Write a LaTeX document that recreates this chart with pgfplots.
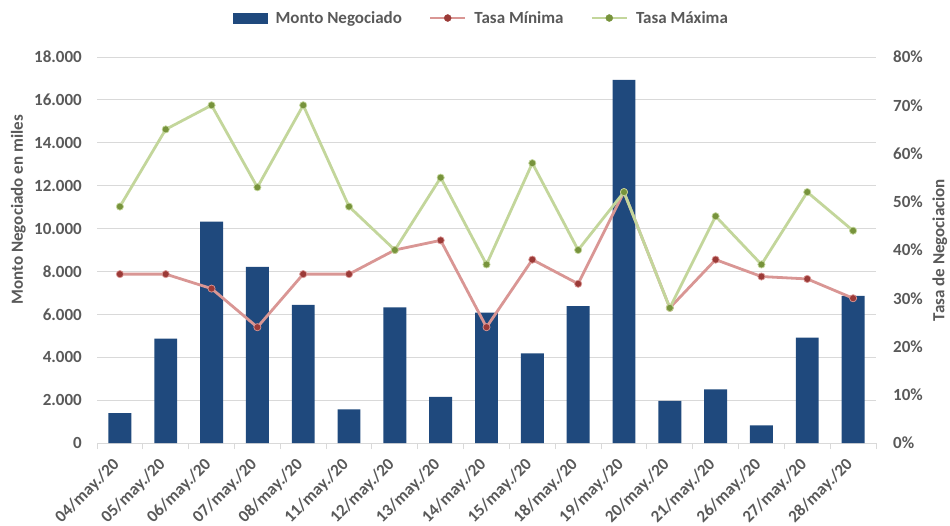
\documentclass[border=0pt]{standalone}
\usepackage{pgfplots}
\pgfplotsset{compat=1.18}
\usepackage{fontspec}
\setmainfont{Carlito}
\definecolor{barblue}{HTML}{1F497D}
\definecolor{redline}{HTML}{D99694}
\definecolor{redmark}{HTML}{9B3A37}
\definecolor{greenline}{HTML}{C3D69B}
\definecolor{greenmark}{HTML}{77933C}
\definecolor{txt}{HTML}{595959}
\definecolor{gridc}{HTML}{D9D9D9}
\begin{document}
\begin{tikzpicture}[x=1pt,y=1pt]
\useasboundingbox (0,0) rectangle (950,525);
\pgfplotsset{
  common/.style={
    at={(97pt,82pt)}, anchor=south west,
    scale only axis, width=779pt, height=386pt,
    xmin=-0.5, xmax=16.5,
    ticklabel style={font=\fontsize{17}{19}\selectfont\bfseries, text=txt},
    label style={font=\fontsize{17}{19}\selectfont\bfseries, text=txt},
    /pgf/number format/assume math mode=true,
    major tick length=0pt,
  }
}
\begin{axis}[common,
  ymin=0, ymax=18000, ytick={0,2000,...,18000},
  scaled y ticks=false,
  /pgf/number format/1000 sep={.},
  axis y line*=left, axis x line*=bottom,
  y axis line style={draw=none},
  x axis line style={draw=gridc, line width=1pt, -},
  ymajorgrids, grid style={draw=gridc, line width=0.9pt},
  ytick style={draw=none},
  yticklabel style={anchor=east, inner sep=0pt, xshift=-15pt},
  xtick={0,...,16},
  xticklabels={04/may./20,05/may./20,06/may./20,07/may./20,08/may./20,11/may./20,12/may./20,13/may./20,14/may./20,15/may./20,18/may./20,19/may./20,20/may./20,21/may./20,26/may./20,27/may./20,28/may./20},
  xticklabel style={anchor=east, inner sep=0pt, xshift=-3pt, yshift=-19pt, rotate=45},
  major x tick style={draw=none},
  minor xtick={-0.5,0.5,...,16.5},
  minor x tick style={draw=gridc, line width=0.9pt},
  minor tick length=6pt, tick align=outside,
  ylabel={Monto Negociado en miles},
  ylabel style={at={(axis description cs:-0.101,0.604)}, anchor=center, rotate=0},
]
\addplot[ybar, bar width=0.5, fill=barblue, draw=none] coordinates {
(0,1390) (1,4870) (2,10320) (3,8210) (4,6440) (5,1570) (6,6330) (7,2150) (8,6080)
(9,4180) (10,6380) (11,16930) (12,1970) (13,2500) (14,820) (15,4910) (16,6860)};
\end{axis}
\begin{axis}[common,
  ymin=0, ymax=80, ytick={0,10,...,80},
  axis y line*=right, axis x line=none,
  y axis line style={draw=none},
  ytick style={draw=none},
  yticklabel={\pgfmathprintnumber{\tick}\%},
  yticklabel style={anchor=west, inner sep=0pt, xshift=17pt},
  ylabel={Tasa de Negociacion},
  ylabel style={at={(axis description cs:1.082,0.5)}, anchor=center, rotate=0},
  legend columns=-1,
  legend cell align=left,
  legend style={at={(0.4936,1.101)}, anchor=center, draw=none, fill=none,
    font=\fontsize{17}{19}\selectfont\bfseries, text=txt, inner sep=0pt,
    /tikz/every even column/.append style={column sep=25pt},
    /tikz/every odd column/.append style={column sep=6pt}},
]
\addlegendimage{legend image code/.code={\fill[barblue] (0pt,-5pt) rectangle (34pt,5pt);}}
\addlegendentry{Monto Negociado}
\addlegendimage{legend image code/.code={\draw[redline, line width=2.5pt] (0pt,0pt)--(35pt,0pt); \fill[redmark] (17.5pt,0pt) circle (3.5pt);}}
\addlegendentry{Tasa Mínima}
\addlegendimage{legend image code/.code={\draw[greenline, line width=2.5pt] (0pt,0pt)--(35pt,0pt); \fill[greenmark] (17.5pt,0pt) circle (3.5pt);}}
\addlegendentry{Tasa Máxima}
\addplot[forget plot, redline, line width=2.8pt, mark=*, mark size=3.6pt,
  mark options={fill=redmark, draw=redline, line width=0.7pt}] coordinates {
(0,35) (1,35) (2,32) (3,24) (4,35) (5,35) (6,40) (7,42) (8,24)
(9,38) (10,33) (11,52) (12,28) (13,38) (14,34.5) (15,34) (16,30)};
\addplot[forget plot, greenline, line width=2.8pt, mark=*, mark size=3.6pt,
  mark options={fill=greenmark, draw=greenline, line width=0.7pt}] coordinates {
(0,49) (1,65) (2,70) (3,53) (4,70) (5,49) (6,40) (7,55) (8,37)
(9,58) (10,40) (11,52) (12,28) (13,47) (14,37) (15,52) (16,44)};
\end{axis}
\end{tikzpicture}
\end{document}
